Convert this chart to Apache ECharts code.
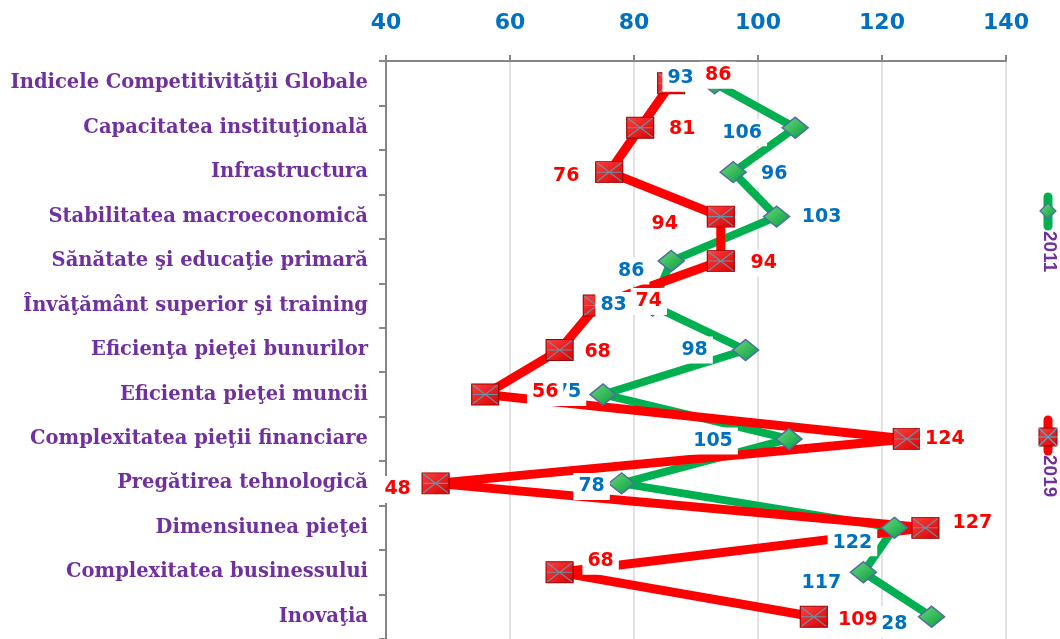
<!DOCTYPE html>
<html><head><meta charset="utf-8">
<script src="https://cdn.jsdelivr.net/npm/echarts@6/dist/echarts.min.js"></script>
<style>html,body{margin:0;padding:0;background:#fff}#c{width:1060px;height:639px}</style>
</head><body><div id="c"></div>
<script>
const categories = ['Indicele Competitivităţii Globale', 'Capacitatea instituţională', 'Infrastructura', 'Stabilitatea macroeconomică', 'Sănătate şi educaţie primară', 'Învăţământ superior şi training', 'Eficienţa pieţei bunurilor', 'Eficienta pieţei muncii', 'Complexitatea pieţii financiare', 'Pregătirea tehnologică', 'Dimensiunea pieţei', 'Complexitatea businessului', 'Inovaţia'];
const values2011 = [93, 106, 96, 103, 86, 83, 98, 75, 105, 78, 122, 117, 128];
const values2019 = [86, 81, 76, 94, 94, 74, 68, 56, 124, 48, 127, 68, 109];
const seriesNames = ['2011', '2019'];
const xMin = 40, xMax = 140, xStep = 20;

// label placement (layout only)
const offs2011 = [[-34,-5],[-53,5],[41,2],[45,0],[-40,10],[-39,0],[-51,0],[-35,-2],[-76,2],[-30,3],[-42,15],[-42,11],[-44,7]];
const offs2019 = [[47,-8],[42,1],[-43,4],[-56,7],[43,2],[52,-4],[38,2],[60,-2],[38,0],[-38,6],[47,-5],[41,-11],[44,3]];

const GREEN = '#00B050', RED = '#FF0000', BLUE = '#0070C0', PURPLE = '#7030A0';
const greenGrad = new echarts.graphic.LinearGradient(0, 0, 1, 1, [{offset:0,color:'#6FDC7E'},{offset:1,color:'#009A3A'}]);
const redGrad = new echarts.graphic.LinearGradient(0, 0, 1, 1, [{offset:0,color:'#FF4040'},{offset:1,color:'#D80000'}]);

const labelBase = {show: true, position: 'inside', fontFamily: 'DejaVu Sans', fontWeight: 'bold', fontSize: 19, backgroundColor: '#fff', padding: [4, 5]};

const chart = echarts.init(document.getElementById('c'), null, {renderer: 'canvas'});
chart.setOption({
  animation: false,
  backgroundColor: '#fff',
  grid: {left: 386, top: 61, width: 620, height: 582, containLabel: false},
  xAxis: {
    type: 'value', position: 'top', min: xMin, max: xMax, interval: xStep,
    axisLine: {show: true, lineStyle: {color: '#868686', width: 2}},
    axisTick: {show: true, length: 6, lineStyle: {color: '#868686', width: 2}},
    splitLine: {show: true, lineStyle: {color: '#D9D9D9', width: 1.5}},
    axisLabel: {color: BLUE, fontFamily: 'DejaVu Sans', fontWeight: 'bold', fontSize: 22, margin: 27}
  },
  yAxis: {
    type: 'category', data: categories, inverse: true,
    axisLine: {show: true, lineStyle: {color: '#868686', width: 2}},
    axisTick: {show: true, length: 7, lineStyle: {color: '#868686', width: 2}},
    splitLine: {show: false},
    axisLabel: {color: PURPLE, fontFamily: 'DejaVu Serif', fontWeight: 'bold', fontSize: 19.5, margin: 18}
  },
  series: [
    {
      name: seriesNames[0], type: 'line', z: 2,
      data: values2011.map((v, i) => ({value: v, label: {offset: offs2011[i]}})),
      symbol: 'diamond', symbolSize: [26, 21], showAllSymbol: true,
      lineStyle: {color: GREEN, width: 8},
      itemStyle: {color: greenGrad, borderColor: '#4F6E9E', borderWidth: 1.5},
      label: Object.assign({}, labelBase, {color: BLUE})
    },
    {
      name: seriesNames[1], type: 'line', z: 2,
      data: values2019.map((v, i) => ({value: v, label: {offset: offs2019[i]}})),
      symbol: 'rect', symbolSize: [27, 21], showAllSymbol: true,
      lineStyle: {color: RED, width: 9},
      itemStyle: {color: redGrad, borderColor: '#9A0000', borderWidth: 1},
      label: Object.assign({}, labelBase, {color: RED})
    },
    {
      name: 'cross', type: 'scatter', z: 2, silent: true,
      data: values2019.map((v, i) => [v, categories[i]]),
      symbol: 'path://M0,0L10,10M10,0L0,10M0,5L10,5', symbolSize: [25, 19],
      itemStyle: {color: 'none', borderColor: '#4BACC6', borderWidth: 1.2}
    }
  ],
  graphic: [
    {type: 'line', shape: {x1: 1048, y1: 197, x2: 1048, y2: 226}, style: {stroke: GREEN, lineWidth: 9, lineCap: 'round'}},
    {type: 'polygon', shape: {points: [[1040, 211], [1048, 203], [1056, 211], [1048, 219]]}, style: {fill: greenGrad, stroke: '#4F6E9E', lineWidth: 1.2}},
    {type: 'text', x: 1049, y: 231, rotation: -Math.PI / 2, style: {text: seriesNames[0], fill: PURPLE, font: 'bold 19px "Liberation Sans"', textAlign: 'left', textVerticalAlign: 'middle'}},
    {type: 'line', shape: {x1: 1048, y1: 420, x2: 1048, y2: 451}, style: {stroke: RED, lineWidth: 9, lineCap: 'round'}},
    {type: 'rect', shape: {x: 1039, y: 428, width: 18, height: 18}, style: {fill: redGrad, stroke: '#9A0000', lineWidth: 1}},
    {type: 'polyline', shape: {points: [[1039, 428], [1057, 446]]}, style: {stroke: '#4BACC6', lineWidth: 1.2}},
    {type: 'polyline', shape: {points: [[1057, 428], [1039, 446]]}, style: {stroke: '#4BACC6', lineWidth: 1.2}},
    {type: 'polyline', shape: {points: [[1039, 437], [1057, 437]]}, style: {stroke: '#4BACC6', lineWidth: 1.2}},
    {type: 'text', x: 1049, y: 455, rotation: -Math.PI / 2, style: {text: seriesNames[1], fill: PURPLE, font: 'bold 19px "Liberation Sans"', textAlign: 'left', textVerticalAlign: 'middle'}}
  ]
});
</script>
</body></html>
